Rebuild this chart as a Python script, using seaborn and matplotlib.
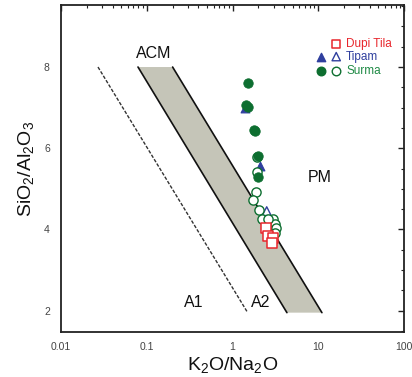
import numpy as np
import pandas as pd
import matplotlib
matplotlib.use("Agg")
import matplotlib.pyplot as plt
import seaborn as sns
from matplotlib.ticker import FixedLocator, LogLocator, NullFormatter, FixedFormatter

# ---- data ----
dupi_x = [2.45, 2.62, 2.92, 2.90]
dupi_y = [4.04, 3.85, 3.79, 3.67]

tipam_filled_x = [1.40, 2.08]
tipam_filled_y = [6.98, 5.55]
tipam_open_x = [2.50]
tipam_open_y = [4.45]

surma_filled_x = [1.50, 1.44, 1.53, 1.76, 1.82, 2.00, 2.00]
surma_filled_y = [7.60, 7.06, 7.02, 6.45, 6.43, 5.80, 5.29]
surma_open_x = [1.92, 1.92, 1.88, 1.75, 2.04, 2.19, 2.99, 3.13, 3.21, 2.62, 3.15]
surma_open_y = [5.78, 5.42, 4.91, 4.72, 4.47, 4.26, 4.26, 4.14, 4.03, 4.26, 3.92]

# ACM field and A1/A2 divide (K2O/Na2O, SiO2/Al2O3)
acm_x = [0.079, 0.20, 11.0, 4.3]
acm_y = [8.0, 8.0, 1.95, 1.95]
a_div_x = [0.027, 1.48]
a_div_y = [8.0, 1.97]

x_ticks = [0.01, 0.1, 1, 10, 100]
x_labels = ["0.01", "0.1", "1", "10", "100"]
y_ticks = [2, 4, 6, 8]
y_labels = ["2", "4", "6", "8"]

RED = "#e8262c"
BLUE = "#2f3f9e"
GREEN = "#0d6e30"
GREEN_TXT = "#1f8a45"

sns.set_style("white")
plt.rcParams["font.family"] = ["Liberation Sans", "DejaVu Sans"]
plt.rcParams["mathtext.fontset"] = "custom"
plt.rcParams["mathtext.rm"] = "Liberation Sans"
plt.rcParams["mathtext.it"] = "Liberation Sans:italic"
plt.rcParams["mathtext.bf"] = "Liberation Sans:bold"

fig = plt.figure(figsize=(4.12, 3.77), dpi=100)
ax = fig.add_axes([0.148, 0.119, 0.833, 0.868])
ax.set_xscale("log")

# field
ax.fill(acm_x, acm_y, facecolor="#c5c5b8", edgecolor="none", zorder=1)
ax.plot([acm_x[0], acm_x[3]], [acm_y[0], acm_y[3]], color="#111111", lw=1.2, zorder=2)
ax.plot([acm_x[1], acm_x[2]], [acm_y[1], acm_y[2]], color="#111111", lw=1.2, zorder=2)
ax.plot(a_div_x, a_div_y, color="#333333", lw=1.0, ls=(0, (2.5, 1.2)), zorder=2)

# data
df_sf = pd.DataFrame({"x": surma_filled_x, "y": surma_filled_y})
df_so = pd.DataFrame({"x": surma_open_x, "y": surma_open_y})
df_tf = pd.DataFrame({"x": tipam_filled_x, "y": tipam_filled_y})
df_to = pd.DataFrame({"x": tipam_open_x, "y": tipam_open_y})
df_d = pd.DataFrame({"x": dupi_x, "y": dupi_y})

sns.scatterplot(data=df_tf, x="x", y="y", ax=ax, marker="^", s=40, color=BLUE,
                edgecolor=BLUE, linewidth=0.8, zorder=3, legend=False)
sns.scatterplot(data=df_to, x="x", y="y", ax=ax, marker="^", s=40, facecolor="none",
                edgecolor=BLUE, linewidth=1.0, zorder=3, legend=False)
sns.scatterplot(data=df_so, x="x", y="y", ax=ax, marker="o", s=44, facecolor="white",
                edgecolor=GREEN, linewidth=1.0, zorder=4, legend=False)
sns.scatterplot(data=df_sf, x="x", y="y", ax=ax, marker="o", s=46, color=GREEN,
                edgecolor=GREEN, linewidth=0.6, zorder=5, legend=False)
sns.scatterplot(data=df_d, x="x", y="y", ax=ax, marker="s", s=42, facecolor="white",
                edgecolor=RED, linewidth=1.1, zorder=6, legend=False)

# field labels
ax.text(0.122, 8.34, "ACM", fontsize=11.5, ha="center", va="center", color="#111111")
ax.text(10.5, 5.29, "PM", fontsize=11.5, ha="center", va="center", color="#111111")
ax.text(0.356, 2.2, "A1", fontsize=11.5, ha="center", va="center", color="#111111")
ax.text(2.13, 2.2, "A2", fontsize=11.5, ha="center", va="center", color="#111111")

# legend (manual, in axes coordinates)
tr = ax.transAxes
ax.scatter([0.802], [0.880], transform=tr, marker="s", s=36, facecolor="white",
           edgecolor=RED, linewidth=1.1, zorder=7, clip_on=False)
ax.scatter([0.757], [0.842], transform=tr, marker="^", s=36, color=BLUE, zorder=7, clip_on=False)
ax.scatter([0.802], [0.842], transform=tr, marker="^", s=36, facecolor="none",
           edgecolor=BLUE, linewidth=1.0, zorder=7, clip_on=False)
ax.scatter([0.757], [0.799], transform=tr, marker="o", s=38, color=GREEN, zorder=7, clip_on=False)
ax.scatter([0.802], [0.799], transform=tr, marker="o", s=38, facecolor="white",
           edgecolor=GREEN, linewidth=1.0, zorder=7, clip_on=False)
ax.text(0.831, 0.880, "Dupi Tila", transform=tr, fontsize=8.5, color=RED, va="center")
ax.text(0.831, 0.842, "Tipam", transform=tr, fontsize=8.5, color=BLUE, va="center")
ax.text(0.831, 0.799, "Surma", transform=tr, fontsize=8.5, color=GREEN_TXT, va="center")

# axes
ax.set_xlim(0.01, 100)
ax.set_ylim(1.47, 9.53)
ax.xaxis.set_major_locator(FixedLocator(x_ticks))
ax.xaxis.set_major_formatter(FixedFormatter(x_labels))
ax.xaxis.set_minor_locator(LogLocator(base=10, subs=np.arange(2, 10)))
ax.xaxis.set_minor_formatter(NullFormatter())
ax.yaxis.set_major_locator(FixedLocator(y_ticks))
ax.yaxis.set_major_formatter(FixedFormatter(y_labels))
ax.yaxis.set_minor_locator(FixedLocator(np.arange(1.5, 9.6, 0.5)))

ax.tick_params(which="both", direction="in", top=True, right=True, color="#222222",
               labelsize=7.5, labelcolor="#444444")
ax.tick_params(axis="x", which="major", length=4.5, width=1.0, pad=7)
ax.tick_params(axis="y", which="major", length=4.5, width=1.0, pad=8)
ax.tick_params(which="minor", length=2.5, width=0.8)
for s in ax.spines.values():
    s.set_visible(True)
    s.set_color("#222222")
    s.set_linewidth(1.3)

ax.set_xlabel("K$_2$O/Na$_2$O", fontsize=14, labelpad=2, color="#111111")
ax.set_ylabel("SiO$_2$/Al$_2$O$_3$", fontsize=14, labelpad=6, color="#111111")

fig.savefig("out.png", dpi=100)
